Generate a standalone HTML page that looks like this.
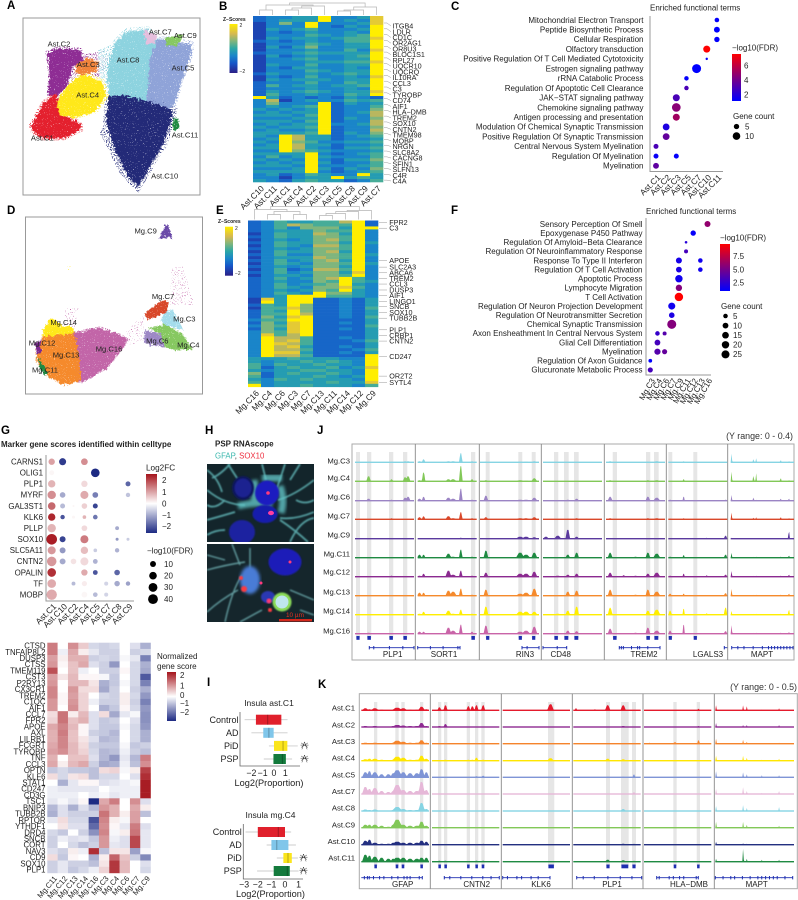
<!DOCTYPE html>
<html lang="en">
<head>
<meta charset="utf-8">
<title>Multi-panel single-cell figure</title>
<style>
html,body{margin:0;padding:0;background:#fff}
svg{display:block}
text{font-family:"Liberation Sans",sans-serif;fill:#222}
.letter{font-size:11.5px;font-weight:bold;fill:#000}
.yr{font-size:8.9px;fill:#333}
</style>
</head>
<body>
<svg id="fig" xmlns="http://www.w3.org/2000/svg" width="798" height="900" viewBox="0 0 798 900">
<defs>
<filter id="rough" x="-10%" y="-10%" width="120%" height="120%" color-interpolation-filters="sRGB">
<feTurbulence type="fractalNoise" baseFrequency="0.35" numOctaves="2" seed="3" result="n"/>
<feDisplacementMap in="SourceGraphic" in2="n" scale="6" xChannelSelector="R" yChannelSelector="G" result="d"/>
<feTurbulence type="fractalNoise" baseFrequency="0.95" numOctaves="1" seed="5" result="s"/>
<feColorMatrix in="s" type="matrix" values="0 0 0 0 0 0 0 0 0 0 0 0 0 0 0 9 0 0 0 -2.1" result="m"/>
<feComposite in="d" in2="m" operator="in"/>
</filter>
<filter id="sparse" x="-10%" y="-10%" width="120%" height="120%" color-interpolation-filters="sRGB">
<feTurbulence type="fractalNoise" baseFrequency="0.95" numOctaves="1" seed="9" result="s"/>
<feColorMatrix in="s" type="matrix" values="0 0 0 0 0 0 0 0 0 0 0 0 0 0 0 14 0 0 0 -7.6" result="m"/>
<feComposite in="SourceGraphic" in2="m" operator="in"/>
</filter>
<filter id="thin" x="-10%" y="-10%" width="120%" height="120%" color-interpolation-filters="sRGB">
<feTurbulence type="fractalNoise" baseFrequency="0.95" numOctaves="1" seed="12" result="s"/>
<feColorMatrix in="s" type="matrix" values="0 0 0 0 0 0 0 0 0 0 0 0 0 0 0 16 0 0 0 -10.2" result="m"/>
<feComposite in="SourceGraphic" in2="m" operator="in"/>
</filter>
<filter id="b1"><feGaussianBlur stdDeviation="0.7"/></filter>
<filter id="b2"><feGaussianBlur stdDeviation="1.6"/></filter>
<linearGradient id="gradFdr" x1="0" y1="0" x2="0" y2="1"><stop offset="0" stop-color="#ff0000"/><stop offset="1" stop-color="#0000ff"/></linearGradient>
<linearGradient id="gradDiv" x1="0" y1="0" x2="0" y2="1"><stop offset="0" stop-color="#a5141c"/><stop offset="0.5" stop-color="#ffffff"/><stop offset="1" stop-color="#1d2a83"/></linearGradient>
<linearGradient id="gradVir" x1="0" y1="0" x2="0" y2="1"><stop offset="0" stop-color="#ffee00"/><stop offset="0.2" stop-color="#d6b850"/><stop offset="0.35" stop-color="#7fb57d"/><stop offset="0.5" stop-color="#2ba7a6"/><stop offset="0.65" stop-color="#1a85c9"/><stop offset="0.8" stop-color="#1656c8"/><stop offset="1" stop-color="#2b1f86"/></linearGradient>
<clipPath id="hc1"><rect x="207" y="464" width="107" height="78"/></clipPath>
<clipPath id="hc2"><rect x="207" y="544" width="107" height="78"/></clipPath>
</defs>

<text class="letter" x="7" y="9">A</text>
<text class="letter" x="219" y="10">B</text>
<text class="letter" x="451" y="10">C</text>
<text class="letter" x="7" y="214">D</text>
<text class="letter" x="216" y="214">E</text>
<text class="letter" x="451" y="214">F</text>
<text class="letter" x="1" y="434">G</text>
<text class="letter" x="205" y="434">H</text>
<text class="letter" x="207" y="686">I</text>
<text class="letter" x="317" y="434">J</text>
<text class="letter" x="318" y="688">K</text>

<rect x="23" y="18" width="177" height="177" fill="none" stroke="#999" stroke-width="1"/>
<rect x="25.5" y="217" width="177" height="177" fill="none" stroke="#999" stroke-width="1"/>
<g id="umapA"></g>
<g id="umapD"></g>

<g id="heatB"></g>
<g>
<text x="223" y="21" font-size="5" font-weight="bold">Z−Scores</text>
<rect x="229.5" y="24" width="8" height="49" fill="url(#gradVir)"/>
<text x="239.5" y="27" font-size="5">2</text>
<text x="239.5" y="73" font-size="5">−2</text>
</g>
<g id="heatE"></g>
<g>
<text x="218" y="223" font-size="5" font-weight="bold">Z−Scores</text>
<rect x="225" y="226.7" width="8" height="49" fill="url(#gradVir)"/>
<text x="235" y="230" font-size="5">2</text>
<text x="235" y="275" font-size="5">−2</text>
</g>

<g id="dotC"></g>
<g>
<text x="650" y="10.5" font-size="8">Enriched functional terms</text>
<text x="732" y="50.5" font-size="8">−log10(FDR)</text>
<rect x="732" y="54" width="9" height="47" fill="url(#gradFdr)"/>
<text x="735" y="68.5" font-size="8" dx="9">6</text>
<text x="735" y="83" font-size="8" dx="9">4</text>
<text x="735" y="97.5" font-size="8" dx="9">2</text>
<text x="733" y="119" font-size="8">Gene count</text>
</g>
<g id="dotF"></g>
<g>
<text x="646" y="214" font-size="8">Enriched functional terms</text>
<text x="720" y="240.5" font-size="8">−log10(FDR)</text>
<rect x="720" y="244" width="10" height="47" fill="url(#gradFdr)"/>
<text x="733" y="258.8" font-size="8">7.5</text>
<text x="733" y="272.3" font-size="8">5.0</text>
<text x="733" y="285.6" font-size="8">2.5</text>
<text x="721" y="309" font-size="8">Gene count</text>
</g>

<g id="dotG"></g>
<text x="1" y="447" font-size="8" font-weight="bold">Marker gene scores identified within celltype</text>
<g>
<text x="146" y="470.5" font-size="8.2">Log2FC</text>
<rect x="146" y="474" width="11" height="59" fill="url(#gradDiv)"/>
<text x="162" y="482.8" font-size="8">2</text>
<text x="162" y="494.8" font-size="8">1</text>
<text x="162" y="506.3" font-size="8">0</text>
<text x="162" y="517.8" font-size="8">−1</text>
<text x="162" y="528.8" font-size="8">−2</text>
<text x="147" y="553.5" font-size="8">−log10(FDR)</text>
</g>

<g id="heatG"></g>
<g>
<text x="157" y="659" font-size="8">Normalized</text>
<text x="157" y="669" font-size="8">gene score</text>
<rect x="167" y="672" width="9" height="49" fill="url(#gradDiv)"/>
<text x="180" y="677.8" font-size="8">2</text>
<text x="180" y="688.3" font-size="8">1</text>
<text x="180" y="697.8" font-size="8">0</text>
<text x="180" y="705.8" font-size="8">−1</text>
<text x="180" y="714.8" font-size="8">−2</text>
</g>

<g>
<text x="215" y="446.5" font-size="8" font-weight="bold">PSP RNAscope</text>
<text x="215" y="458.5" font-size="7.8"><tspan fill="#39b7ad">GFAP</tspan><tspan fill="#222">, </tspan><tspan fill="#ee2b3c">SOX10</tspan></text>
<g clip-path="url(#hc1)">
<rect x="207" y="464" width="107" height="78" fill="#13252b"/>
<g fill="none" stroke="#6fd0d0" stroke-width="1.7" opacity=".75" filter="url(#b1)">
<path d="M207 490 Q225 505 245 505 M228 464 Q238 480 250 497 M285 464 Q280 480 276 490 M314 480 Q295 495 278 500 M314 512 Q295 520 280 518 M280 520 Q295 530 308 542 M207 520 Q225 515 235 512 M207 535 Q215 530 225 530 M290 542 Q300 520 314 518 M262 464 L266 480 M207 470 Q218 478 222 492 M300 464 L290 480 M230 464 Q220 475 212 478 M296 500 Q305 505 314 500 M225 500 Q215 510 207 505"/>
</g>
<g fill="none" stroke="#62c4c6" stroke-width="7" opacity=".8" filter="url(#b2)">
<path d="M238 506 Q258 501 272 505 M280 486 Q285 500 281 513 M254 480 Q256 490 254 502 M282 478 Q272 478 262 478"/>
</g>
<ellipse cx="243" cy="488" rx="11" ry="12" fill="#10175c" filter="url(#b1)"/>
<ellipse cx="243" cy="488" rx="8.5" ry="9.5" fill="#1a2290" filter="url(#b1)"/>
<ellipse cx="267" cy="493" rx="12" ry="12.5" fill="#1a1ec0" filter="url(#b1)"/>
<ellipse cx="265" cy="514" rx="12.5" ry="9" fill="#181cac" filter="url(#b1)"/>
<ellipse cx="242" cy="532" rx="13" ry="12" fill="#1a20a0" filter="url(#b1)"/>
<circle cx="268" cy="493" r="1.8" fill="#ff3a7c"/>
<ellipse cx="271" cy="513" rx="3" ry="2.2" fill="#ff3ea0"/>
</g>
<g clip-path="url(#hc2)">
<rect x="207" y="544" width="107" height="78" fill="#15262c"/>
<g fill="none" stroke="#84d0d2" stroke-width="1.4" opacity=".7" filter="url(#b1)">
<path d="M207 570 Q225 565 245 562 M225 622 Q232 590 242 575 M207 612 Q220 600 238 590 M250 548 L250 570 M290 590 L314 600 M207 555 L225 560 M262 610 L240 622 M232 544 L240 565 M300 610 L314 615"/>
</g>
<ellipse cx="285" cy="562" rx="16.5" ry="13.5" fill="#1a1eb8" filter="url(#b1)"/>
<ellipse cx="250" cy="580" rx="10" ry="14" fill="#4a7cd6" filter="url(#b2)"/>
<ellipse cx="268" cy="597" rx="7" ry="6" fill="#2a38b4" filter="url(#b1)"/>
<circle cx="282" cy="602" r="9.5" fill="#8cdc5a" filter="url(#b1)"/>
<circle cx="282" cy="602" r="6.5" fill="#bfe6ee"/>
<circle cx="244" cy="589" r="3" fill="#ff3a40" filter="url(#b1)"/>
<circle cx="241" cy="578" r="2" fill="#ff3a40" filter="url(#b1)"/>
<circle cx="269" cy="601" r="2.5" fill="#ff3a70" filter="url(#b1)"/>
<circle cx="270" cy="610" r="2" fill="#ff3a40" filter="url(#b1)"/>
<circle cx="290" cy="562" r="1.5" fill="#ff3a7c"/>
<circle cx="261" cy="583" r="1.5" fill="#ff3a7c"/>
<rect x="279" y="619" width="33" height="2.4" fill="#d4281c"/>
<text x="286" y="617" font-size="6.4" style="fill:#e63020">10 µm</text>
</g>
</g>

<g id="boxI"></g>

<g id="trackJ"></g>
<text class="yr" x="793" y="439" text-anchor="end">(Y range: 0 - 0.4)</text>
<g id="trackK"></g>
<text class="yr" x="797" y="690" text-anchor="end">(Y range: 0 - 0.5)</text>
</svg>

<script>
// ---------- UMAP clusters (outline in embedding space, zoom units) ----------
const aNames=["Ast.C5","Ast.C8","Ast.C10","Ast.C2","Ast.C3","Ast.C4","Ast.C1","Ast.C7","Ast.C9","Ast.C11"];
const aColors=["#8fa3d8","#8dd3df","#232a78","#8e2d94","#f0833a","#ffe81a","#e4202e","#e6bedd","#86c860","#1f8a42"];
const aOutlines=[
[[440,120],[500,120],[575,135],[570,175],[545,240],[525,310],[490,345],[430,310],[440,220]],
[[345,130],[380,95],[440,90],[470,120],[450,180],[445,230],[440,330],[330,305],[320,220],[335,160]],
[[325,290],[370,285],[480,315],[520,335],[490,430],[450,500],[415,560],[385,530],[345,450],[320,370]],
[[140,160],[180,145],[240,150],[250,180],[220,200],[200,260],[170,290],[145,280],[150,210]],
[[230,190],[260,175],[295,185],[290,215],[250,225],[225,215]],
[[165,315],[205,255],[250,222],[305,245],[318,290],[285,335],[220,352],[172,345]],
[[95,375],[130,310],[170,280],[175,340],[240,370],[240,390],[190,415],[130,415],[100,395]],
[[430,90],[470,105],[465,130],[440,130]],
[[495,115],[550,105],[530,140],[500,135]],
[[522,355],[535,355],[538,385],[525,392],[518,380]]];
const aSparse=[["#8e2d94",[[140,200],[220,170],[320,150],[330,210],[240,260],[170,300]]],["#8dd3df",[[295,150],[345,130],[340,300],[300,300]]],["#232a78",[[325,340],[300,400],[360,520],[400,560],[500,440],[530,340],[480,330]]],["#e4202e",[[130,300],[180,280],[250,380],[200,420]]]];
const aLabels=[["Ast.C1",127,414],["Ast.C2",177,132],["Ast.C3",265,193],["Ast.C4",263,285],["Ast.C5",549,204],["Ast.C7",481,95],["Ast.C8",384,179],["Ast.C9",556,106],["Ast.C10",494,528],["Ast.C11",555,405]];

const dNames=["Mg.C9","Mg.C14","Mg.C16","Mg.C13","Mg.C12","Mg.C11","Mg.C3","Mg.C7","Mg.C4","Mg.C6"];
const dColors=["#6a4aa8","#ffe81a","#c265a8","#f58a2c","#7b2a90","#1f8a42","#a4dceb","#d8482a","#86c860","#9d88c6"];
const dOutlines=[
[[480,100],[495,60],[505,60],[517,100],[495,95]],
[[130,375],[150,340],[165,345],[185,365],[215,365],[225,385],[130,400]],
[[215,385],[300,368],[350,385],[385,405],[360,440],[320,490],[250,530],[225,525]],
[[110,430],[130,395],[225,385],[240,470],[240,525],[190,540],[140,510],[110,470]],
[[105,415],[120,405],[125,440],[110,450]],
[[110,455],[125,470],[145,515],[125,500]],
[[495,315],[520,320],[550,375],[490,360],[485,340]],
[[432,325],[490,285],[505,290],[500,320],[445,345]],
[[445,370],[495,360],[545,385],[580,435],[520,435],[495,425],[480,385]],
[[430,415],[435,375],[480,385],[495,425],[450,420]]];
const dSparse=[["#c265a8",[[515,190],[545,180],[585,300],[510,300]]],["#c265a8",[[380,380],[430,330],[430,410],[390,420]]],["#ffe81a",[[203,183],[215,183],[215,195],[203,195]]],["#c265a8",[[195,310],[235,310],[225,370],[190,370]]]];
const aLayerFilter="url(#sparse)";
const dLayerFilter="url(#thin)";
const aLabelsSize=7.6;
const aFringe=1.12;
const dFringe=1.06;
const dLabels=[["Mg.C9",437,77],["Mg.C7",489,274],["Mg.C14",191,352],["Mg.C3",553,341],["Mg.C12",126,414],["Mg.C6",472,407],["Mg.C4",565,420],["Mg.C13",198,450],["Mg.C16",327,431],["Mg.C11",135,494]];

// ---------- Heatmap B ----------
const bCols=["Ast.C10","Ast.C11","Ast.C1","Ast.C4","Ast.C2","Ast.C3","Ast.C5","Ast.C8","Ast.C9","Ast.C7"];
const bGenes=["ITGB4","LDLR","CD1C","OR2AG1","OR8U3","BLOC1S1","RPL27","UQCR10","UQCRQ","IL10RA","CCL3","C3","TYROBP","CD74","AIF1","HLA−DMB","TREM2","SOX10","CNTN2","TMEM98","MOBP","NRGN","SLC8A2","CACNG8","SFIN1","SLFN13","C4R","C4A"];
const bRows=[[2,3,3,4,4,9,3,3,4,8],[2,3,4,4,4,9,3,4,3,8],[1,3,6,3,9,3,3,3,4,8],[1,3,3,3,9,3,2,4,3,9],[1,4,3,4,5,3,3,3,4,9],[1,3,2,3,4,3,3,4,3,9],[1,3,3,3,5,4,3,4,5,9],[1,4,3,4,4,3,4,5,5,8],[2,3,2,3,4,3,3,5,5,9],[1,3,3,3,5,4,3,4,4,9],[1,4,2,4,6,3,3,4,4,9],[1,3,3,3,4,3,3,5,3,8],[2,3,3,4,5,4,4,4,4,9],[1,4,2,3,4,3,3,4,5,9],[1,3,3,4,5,3,3,4,4,9],[1,3,3,3,4,4,4,5,5,8],[1,4,3,3,5,3,3,4,4,9],[1,3,2,4,4,3,3,4,3,9],[1,3,3,3,5,4,3,4,4,9],[2,4,3,3,4,3,4,5,4,9],[1,3,2,3,5,3,3,4,3,8],[1,4,3,4,4,4,3,4,4,9],[2,3,3,3,5,3,3,5,4,9],[2,5,3,4,4,3,4,4,5,9],[2,3,3,3,4,3,3,4,3,9],[2,4,3,4,5,4,3,4,4,8],[2,5,3,3,4,3,3,5,4,9],[9,4,2,3,2,3,2,4,3,2],[3,7,1,3,4,3,3,5,4,5],[3,6,3,3,3,9,2,4,3,4],[3,4,3,4,5,9,2,3,3,5],[4,3,4,3,4,9,2,3,3,6],[3,4,3,4,4,9,2,3,4,7],[4,4,4,3,5,9,2,3,3,7],[3,3,3,4,4,9,2,4,3,6],[4,4,4,3,5,9,2,3,3,7],[3,4,3,4,4,9,3,3,4,7],[4,3,4,4,5,9,2,3,3,6],[3,4,3,3,4,9,2,3,3,7],[4,4,4,4,5,9,2,4,3,6],[4,3,9,7,4,4,2,3,4,5],[3,4,9,7,4,4,2,3,3,4],[4,3,9,6,5,3,3,4,4,5],[3,4,9,7,4,4,2,3,3,4],[4,4,9,7,4,3,2,4,4,5],[3,3,9,6,5,4,3,3,3,4],[4,4,4,4,9,3,2,3,4,5],[3,5,3,4,9,4,3,3,3,5],[4,3,4,3,9,3,2,4,4,6],[3,4,3,4,9,4,2,3,3,5],[4,4,4,3,9,3,3,3,4,5],[3,3,3,4,9,4,2,4,3,6],[4,4,4,4,9,3,2,3,4,5],[3,4,2,3,5,4,3,3,9,4],[3,3,1,3,4,4,9,4,5,4],[4,3,2,4,5,4,4,2,3,5]];
const bTree=[[0,1,5],[2,3,5],[11,4,7],[12,5,9],[6,7,4],[14,8,5],[15,9,8],[10,13,10],[17,16,12]];

// ---------- Heatmap E ----------
const eCols=["Mg.C16","Mg.C4","Mg.C6","Mg.C3","Mg.C7","Mg.C13","Mg.C11","Mg.C14","Mg.C12","Mg.C9"];
const eGenes=["FPR2","C3","APOE","SLC2A3","ABCA6","TREM2","CCL3","DUSP3","AIF1","LINGO1","SNCB","SOX10","TUBB2B","PLP1","CRBP1","CNTN2","CD247","OR2T2","SYTL4"];
const eGeneRows=[0.6,2.6,13.5,15.7,17.6,19.6,21.4,23.4,25.2,27.2,29,30.9,32.9,36.8,38.7,40.6,45.8,52.4,54.5];
const eRows=[[2,3,5,4,4,5,5,7,9,2],[2,3,5,7,6,5,5,5,9,2],[2,3,5,3,6,6,6,4,9,9],[2,3,4,4,4,6,5,5,9,3],[1,3,5,4,4,7,6,4,9,3],[2,3,5,4,4,6,6,5,9,3],[1,3,4,3,4,6,7,5,9,3],[2,3,5,4,4,6,6,4,9,4],[1,3,5,4,3,7,7,5,9,3],[2,3,4,3,4,6,6,5,9,3],[1,3,5,4,4,6,7,4,9,3],[2,3,5,3,3,6,6,5,9,4],[1,3,4,4,4,7,6,5,9,3],[2,3,5,3,4,6,7,4,9,3],[1,3,5,4,3,6,6,5,9,4],[2,3,4,3,4,6,6,4,9,3],[1,3,5,2,3,7,7,5,9,3],[2,3,5,3,4,6,6,4,8,3],[1,3,4,4,3,6,6,5,9,3],[2,3,5,3,4,6,7,9,5,3],[2,3,4,3,3,6,5,9,5,4],[2,3,5,3,4,5,6,9,4,3],[2,3,5,4,3,6,6,8,5,3],[2,3,4,3,4,6,5,9,4,3],[2,3,5,4,3,9,6,6,4,3],[2,3,4,9,9,9,5,5,4,3],[1,8,4,9,9,2,2,3,2,4],[1,9,4,9,9,2,2,3,2,4],[2,5,4,9,6,2,2,3,2,4],[1,5,5,8,6,2,2,3,2,5],[2,5,4,9,6,2,2,3,2,4],[2,5,5,9,7,2,2,3,2,4],[2,6,4,8,9,2,2,3,2,5],[3,5,5,9,9,2,2,2,2,4],[2,6,4,8,9,2,2,3,2,4],[3,6,5,8,9,2,2,2,2,5],[2,6,4,8,9,2,2,3,2,4],[3,6,5,8,9,2,2,2,2,4],[3,8,5,7,9,2,2,2,2,4],[3,9,7,7,5,2,2,3,2,4],[3,9,7,8,5,2,2,2,3,5],[3,9,8,7,5,2,2,2,2,4],[3,9,7,8,4,2,2,3,2,4],[3,9,7,7,5,2,2,2,3,5],[3,9,8,8,4,2,2,3,2,4],[3,9,7,7,5,2,2,2,2,9],[4,4,4,5,4,4,4,3,3,9],[4,3,4,4,5,4,5,4,3,9],[5,3,5,4,4,5,4,4,3,9],[5,2,4,5,4,4,5,3,4,8],[4,3,4,4,5,5,4,4,3,9],[6,2,4,5,4,4,5,4,3,9],[5,2,4,4,4,5,4,3,4,9],[4,3,5,4,5,4,4,4,3,9],[5,3,4,4,4,4,5,4,4,8],[9,3,4,4,5,4,4,4,3,5]];
const eTree=[[1,2,5],[3,4,5],[10,11,8],[0,12,10],[5,6,4],[14,7,6],[15,8,8],[16,9,9],[13,17,13]];

// ---------- Dot plot C ----------
const cTerms=["Mitochondrial Electron Transport","Peptide Biosynthetic Process","Cellular Respiration","Olfactory transduction","Positive Regulation Of T Cell Mediated Cytotoxicity","Estrogen signaling pathway","rRNA Catabolic Process","Regulation Of Apoptotic Cell Clearance","JAK−STAT signaling pathway","Chemokine signaling pathway","Antigen processing and presentation","Modulation Of Chemical Synaptic Transmission","Positive Regulation Of Synaptic Transmission","Central Nervous System Myelination","Regulation Of Myelination","Myelination"];
const cCols=["Ast.C1","Ast.C2","Ast.C3","Ast.C5","Ast.C7","Ast.C10","Ast.C11"];
const cDots=[[0,6,3.7,1.4],[1,6,6,1.3],[2,6,5,1.4],[3,5,8.5,7.2],[4,5,1,1.4],[5,4,14,1.3],[6,3,3.5,1.4],[7,3,3.5,3],[8,2,8.5,3],[9,2,13,4.5],[10,2,8.5,5],[11,1,8,2],[12,1,8,3.6],[13,0,4.3,3],[14,0,4.3,1.5],[14,2,4.3,1.4],[15,0,6,3.5]];
const cLegendCounts=[5,10];

// ---------- Dot plot F ----------
const fTerms=["Sensory Perception Of Smell","Epoxygenase P450 Pathway","Regulation Of Amyloid−Beta Clearance","Regulation Of Neuroinflammatory Response","Response To Type II Interferon","Regulation Of T Cell Activation","Apoptotic Process","Lymphocyte Migration","T Cell Activation","Regulation Of Neuron Projection Development","Regulation Of Neurotransmitter Secretion","Chemical Synaptic Transmission","Axon Ensheathment In Central Nervous System","Glial Cell Differentiation","Myelination","Regulation Of Axon Guidance","Glucuronate Metabolic Process"];
const fCols=["Mg.C3","Mg.C4","Mg.C6","Mg.C7","Mg.C9","Mg.C11","Mg.C12","Mg.C13","Mg.C16"];
const fDots=[[0,8,11,6],[1,6,8,1.5],[2,5,1,2.5],[3,5,3.4,3.5],[4,4,11,2],[4,7,5,1.8],[5,4,10,2.2],[5,7,5,1.8],[6,4,20,1.8],[7,4,13,5.5],[8,4,29,9.5],[9,3,17,1.8],[10,3,9,2.2],[11,3,35,5.5],[12,1,5,3],[12,2,3.4,4],[13,1,10,3.5],[14,1,12,4],[14,2,7,4.5],[15,0,2.8,1.3],[16,0,7,3.5]];
const fLegendCounts=[5,10,15,20,25];

// ---------- Dot plot G ----------
const gGenes=["CARNS1","OLIG1","PLP1","MYRF","GAL3ST1","KLK6","PLLP","SOX10","SLC5A11","CNTN2","OPALIN","TF","MOBP"];
const gCols=["Ast.C1","Ast.C10","Ast.C2","Ast.C4","Ast.C5","Ast.C7","Ast.C8","Ast.C9"];
const gDots=[[0,0,12,1.0],[0,1,16,-2.3],[0,3,14,1.2],[1,0,6,0.1],[1,4,28,-2.5],[2,0,18,0.8],[2,3,12,0.4],[2,7,6,-1.8],[3,0,26,1.2],[3,1,8.5,-1],[3,3,23,0.9],[3,4,9,-1.5],[3,7,4.3,-0.7],[4,0,20,1.6],[4,1,6,-0.8],[4,2,0.5,0.1],[4,3,8.5,0.5],[4,4,6,-2.2],[5,0,18,2.3],[5,1,4.3,-2],[5,2,1.5,0.1],[5,3,2.5,0.8],[5,4,5,-1.6],[6,0,26,0.8],[6,3,9,0.4],[6,6,3,-1],[7,0,50,2.4],[7,1,10,-2.2],[7,3,23,1.4],[7,6,1.5,-1.2],[7,7,1.5,-0.6],[8,0,23,1.1],[8,1,10,-1.2],[8,3,18,0.7],[8,4,2.5,-0.6],[8,6,4.3,-0.9],[9,0,37,1.1],[9,1,10,-1],[9,2,8.5,0.3],[9,3,23,0.4],[9,4,5.5,-0.9],[10,0,28,2.2],[10,3,12,0.9],[10,4,5.5,-2],[10,6,8.5,-1.8],[11,0,28,0.9],[11,2,3,-0.8],[11,3,7,0.2],[11,5,3.3,-0.5],[11,6,8,-1],[11,7,4.3,-1.1],[12,0,47,0.9],[12,3,9,0.1],[12,4,5,-0.8],[12,5,3.3,-0.5]];
const gLegendFdr=[10,20,30,40];

// ---------- Heatmap G ----------
const hGenes=["CTSD","TNFAIP8L2","DUSP3","CTSS","TMEM119","CST3","P2RY13","CX3CR1","TREM2","C1QC","AIF1","CCL7","FPR2","APOE","AXL","LILRB1","FCGRT","TYROBP","TNF","CCL3","OPTN","KLF6","STAT1","CD247","CD3G","TSC1","BNIP3","TUBB2B","RPTOR","YTHDF1","DRD4","SNCB","CORT","NAV3","CD9","SOX10","PLP1"];
const hCols=["Mg.C11","Mg.C12","Mg.C13","Mg.C14","Mg.C16","Mg.C3","Mg.C4","Mg.C6","Mg.C7","Mg.C9"];
const hValues=[[1.5,0,1.3,.6,-.5,-.6,-.5,0,-.4,-1],[1.5,-.2,1,.2,-.3,-.6,-.6,0,-.6,-.5],[1.1,.2,.9,.9,-.6,-.5,-.6,-.1,-.3,-1.6],[1.2,.1,.7,1,-.4,-.6,-1.3,0,-.5,-1],[2,0,.7,-.2,0,-.6,-.6,.1,-.5,-1.1],[1.1,.3,.8,.1,.1,-.1,-.7,0,-.5,-2.1],[1.2,0,.8,.8,.3,-1,-.7,-.1,-.5,-1.6],[1.4,0,1.2,.4,.4,-1.1,-.6,0,-.6,-1],[1.4,.1,1.1,.5,0,-.5,-.6,.2,-.5,-1.3],[1.2,.1,1.2,.5,-.2,-.6,-.6,.2,-.6,-1.6],[1.2,0,1.3,.5,0,-1,-.7,.1,-.5,-1.3],[.4,1.6,.2,.8,-.4,.4,-1.1,-.3,-.1,-1.4],[.5,1.6,.7,.9,-.4,-.7,-.6,0,-.4,-1.4],[1,1.4,.8,.1,-.4,-.7,-.7,-.1,-.5,-1.3],[.9,1.5,.7,.1,-.6,-.7,-.9,0,-.5,-1],[.9,1.4,.7,.3,-.4,-.9,-.8,0,-.5,-1],[1,1.4,.8,.4,-.6,-.7,-.7,-.1,-.7,-.6],[1.1,1.3,.8,.5,-.5,-.9,-.8,-.2,-.6,-.8],[.9,0,.7,.7,-.4,-.9,-1.3,-.3,-.9,1.5],[1,.2,.8,1,-.6,-1.1,-1,-.2,-.8,1.3],[-.7,-.5,-.7,-.7,-.8,.4,.5,-.1,.2,2.2],[.4,-.5,.3,.4,-.8,-.5,-.5,0,-.4,2.4],[0,-1,-.3,.1,.1,-.4,-.3,-.2,-.1,2.6],[-.2,-.3,-.3,-.3,-.3,0,-.2,-.2,-.2,2.6],[-.2,-.2,-.2,0,-.2,-.1,-.3,-.2,-.2,2.6],[-.3,-.1,-.3,.1,-2.7,1,1.5,0,1.3,-.4],[-.9,-.4,-1,-.4,-.9,1.2,.9,0,1,.2],[-1,-.4,-.6,-.6,-.6,1.6,.9,.2,1.1,-.8],[-.3,.4,-.5,-.5,-2.2,1.4,.2,-.1,1.1,0],[0,.3,-.4,-.4,-1.9,1.3,.1,-.3,1.5,-.4],[-.5,-.7,0,-.6,-1.4,1.4,-.1,.2,1.6,-.3],[-.6,-.2,-.4,-.3,-.7,1.2,-.2,-.4,2.1,-.3],[-.6,0,-.5,-.8,-.6,1.2,-.3,-.4,2.1,-.3],[-.4,-.6,.2,-.2,2.4,-.8,.3,.3,-1.2,-.1],[.4,-.7,.1,0,-1,.2,1.8,.7,-.6,-1.5],[-.6,-.3,-.6,-.6,-.8,.3,2.3,.8,0,-.4],[-.6,-.3,-.7,-.5,-.2,.5,2.3,.8,0,-.5]];

// ---------- Box plots I ----------
const iGroups=["Control","AD","PiD","PSP"];
const iFills=["#e0202c","#80c6ea","#fbe51c","#137a3c"];
const iTopBoxes=[[-2.6,-1.6,-.55,.65,1.2],[-2,-.95,-.45,-.03,1.2],[-.45,0,.8,1.18,2.1],[-.9,-.05,.73,1.05,1.6]];
const iTopTicks=[-2,-1,0,1];
const iBotBoxes=[[-2.9,-2,-.5,0,.45],[-1.35,-1,-.6,.25,.8],[-.6,-.12,.22,.5,.95],[-2.05,-.83,.16,.35,1]];
const iBotTicks=[-3,-2,-1,0,1];
const iStarGroups=[2,3];

// ---------- Tracks J ----------
const jRows=["Mg.C3","Mg.C4","Mg.C6","Mg.C7","Mg.C9","Mg.C11","Mg.C12","Mg.C13","Mg.C14","Mg.C16"];
const jColors=["#86d4e3","#82c858","#9b84c4","#d9482a","#5b3a9e","#1f8a42","#8b2a90","#f58a2c","#ffee00","#c964a8"];
const jGenes=["PLP1","SORT1","RIN3","CD48","TREM2","LGALS3","MAPT"];
const jPeaks=[[23,62,85,90],[3,10,52,60,73,92],[10,68,78,92],[5,25,42,57],[7,30,50,71,86],[3,26,65,97],[1.5,36,40,79,92]];
const jWidths=[[4,3,4,4],[4,3,5,6,3,3],[4,7,7,5],[5,6,4,4],[4,3,4,4,6],[3,2,2,3],[1,1,1,1.5,1.5]];
const jHeights=[
[[.5,.5,1,1],[5,2,4,5],[2,1,3,4],[0,1,0,0],[],[],[0,1,0,0],[],[],[1,0,0,0]],
[[1,3,1,1,9,1],[1,9,2,2,15,2],[2,4,3,2,12,1],[2,3,3,1,7,1],[.5,.5,.5,0,1,0],[3,3,4,1,8,1],[1,3,6,2,6,1],[3,3,5,4,7,1],[1,3,4,1,5,1],[2,2,6,3,9,2]],
[[.5,.5,.5,1],[1,1,.5,3],[5,1,1,3],[2,1,1,2],[0,2,2,1.5],[7,5,3,5],[4,3,3,5],[6,2,3,7],[8,3,3,3],[8,2,3,7]],
[[],[],[0,0,1,2],[0,0,.5,1],[2,3,9,2],[.3,.3,3,5],[.5,1,2,3],[.5,.5,4,5],[.5,1,4,8],[.5,.5,3,2.5]],
[[1,0,.3,.5,1],[1,0,.3,1,1],[4,0,.5,4,3],[1,0,.3,1,1],[],[5,.5,1,5,4],[4,1.5,1,3,4],[6,.5,1,6,4],[7,.3,.5,4,5],[5,.5,1,6,3]],
[[.3,1,.2,.2],[.3,2,.2,.3],[1,4,.3,1],[.5,1,.2,.5],[0,.2,1,3],[1,2.5,.3,3],[1,3,1.5,2],[2,2,.5,2.5],[4,6,1.5,7],[3,9,.5,2.5]],
[[9,4,4,2,1],[10,7,8,3,1],[6,4,1,2,2],[7,2,2,2,1],[1,.5,.5,.5,7],[5,1,1,1,2],[6,1,1,1,2],[7,1,1,1,2],[4,1,1,1,5],[9,1,1,1,1.5]]];

// ---------- Tracks K ----------
const kRows=["Ast.C1","Ast.C2","Ast.C3","Ast.C4","Ast.C5","Ast.C7","Ast.C8","Ast.C9","Ast.C10","Ast.C11"];
const kColors=["#e41a2c","#8e2a92","#f5842c","#ffe600","#7f95d6","#e6b8d8","#86d4e3","#82c858","#232f80","#1f8a42"];
const kGenes=["GFAP","CNTN2","KLK6","PLP1","HLA−DMB","MAPT"];
const kPeaks=[[6,12,20,30,40,47,53,62,72,82,89,96],[11,20,54,60,66,76],[71],[4,32,51,74,90],[8,46,81],[1,35.5,40,59,81]];
const kWidths=[[5,4,6,5,5,4,8,6,6,6,5,4],[3,3,3,3,3,3],[5],[2,2,4,4,2],[2,3,2],[1,.8,1,.8,1]];
const kHeights=[
[[2,1,2,.5,.3,.5,2.5,2,.5,.5,3.5,1],[1,.5,1,.5,.5,1,2,1.5,1,1,4,1],[1,.5,1,.5,.5,1,3,2,1,1,3.5,1],[1.5,2,2,1,.5,1,4,3,1,1,5,2],[5,6,5,3,3,4,7,5,4,4,8,5],[7,5,6,3,2,3,9,4,3,3,12,4],[1.5,1,1.5,.5,.5,1,4,2,1,1,8,2],[3,3,3,2,1,3,8,3,2,2,6,2],[4,5,2,1,1,2,3,2,2,2,4,3],[7,6,5,4,3,3,4,4,3,3,4,4]],
[[3,5,4,4,5,5],[1,3,.5,.5,.5,.5],[],[.5,1,1,1,3,1],[0,0,0,0,1,1.5],[],[],[],[0,0,0,0,0,.8],[1,1,.5,.5,1,1]],
[[6],[.5],[],[2.5],[],[],[],[],[],[]],
[[2,1,5,5,.5],[0,0,.5,1,0],[],[.5,.3,2,1.5,.3],[.3,.3,.5,.5,3],[0,0,.5,.3,2],[0,0,.3,2,0],[],[0,0,.3,1,1],[.5,.5,2,1.5,1]],
[[0,0,1.5],[0,0,1],[1,1.5,3.5],[],[],[.5,0,.5],[],[.5,0,.5],[.5,0,0],[0,0,.5]],
[[5,5,4,.5,2],[4,2,2,.5,2],[5,4,2,.5,1],[5,5,3,1,2],[6,5,3,2,2],[5,7,3,1,3],[5,6,3,.5,4],[6,6,3,.5,2],[3,1.5,1,.3,.5],[3,13,3,2,2]]];

// ---------- helpers ----------
const NS="http://www.w3.org/2000/svg";
function mk(tag,attrs,parent){
  const el=document.createElementNS(NS,tag);
  for(const k in attrs) el.setAttribute(k,attrs[k]);
  parent.appendChild(el);
  return el;
}
function txt(parent,x,y,str,size,name,anchor,rot){
  const el=mk("text",{x:x,y:y+size*0.35,"font-size":size,"text-anchor":anchor||"start"},parent);
  if(rot) el.setAttribute("transform","rotate("+rot+" "+x+" "+y+")");
  el.textContent=str;
  
  
  return el;
}
function slug(s){return String(s).toLowerCase().replace(/[^a-z0-9]+/g,'-');}
function lerp(a,b,t){return a+(b-a)*t;}
function mix(stops,t){
  t=Math.max(0,Math.min(1,t));
  const n=stops.length-1,i=Math.min(n-1,Math.floor(t*n)),f=t*n-i,a=stops[i],b=stops[i+1];
  return "rgb("+Math.round(lerp(a[0],b[0],f))+","+Math.round(lerp(a[1],b[1],f))+","+Math.round(lerp(a[2],b[2],f))+")";
}
const virStops=[[43,31,134],[22,86,200],[26,133,201],[43,167,166],[127,181,125],[214,184,80],[255,238,0]];
function virColor(level){return mix(virStops,level/9);}
function fdrColor(v,lo,hi){const t=Math.max(0,Math.min(1,(v-lo)/(hi-lo)));return "rgb("+Math.round(255*t)+",0,"+Math.round(255*(1-t))+")";}
function divColor(v,lim){
  const t=Math.max(-1,Math.min(1,v/lim));
  return t>=0?mix([[255,255,255],[165,20,28]],t):mix([[255,255,255],[29,42,131]],-t);
}

// ---------- UMAP ----------
function drawUmap(g,names,colors,outlines,sparse,labels,oy,sparseFilter,fringe){
  const pts=function(o){return o.map(function(q){return (q[0]/3)+","+(oy+q[1]/3);}).join(" ");};
  sparse.forEach(function(s){
    const p=mk("polygon",{points:pts(s[1]),fill:s[0],filter:sparseFilter},g);
    
    
  });
  outlines.forEach(function(o,i){
    let cx=0,cy=0;
    o.forEach(function(q){cx+=q[0]/o.length;cy+=q[1]/o.length;});
    const big=o.map(function(q){return [cx+(q[0]-cx)*fringe,cy+(q[1]-cy)*fringe];});
    const f=mk("polygon",{points:pts(big),fill:colors[i],filter:"url(#sparse)"},g);
    
    
  });
  outlines.forEach(function(o,i){
    const p=mk("polygon",{points:pts(o),fill:colors[i],filter:"url(#rough)"},g);
    
    
  });
  labels.forEach(function(l){
    txt(g,l[1]/3,oy+l[2]/3,l[0],aLabelsSize,'umap-label-'+slug(l[0]),'middle');
  });
}
drawUmap(document.getElementById("umapA"),aNames,aColors,aOutlines,aSparse,aLabels,0,aLayerFilter,aFringe);
drawUmap(document.getElementById("umapD"),dNames,dColors,dOutlines,dSparse,dLabels,205,dLayerFilter,dFringe);

// ---------- z-score heatmaps ----------
function dendro(g,x0,cw,base,merges){
  const nodes=[];
  for(let i=0;i<10;i++) nodes.push({x:x0+cw*(i+.5),y:base});
  merges.forEach(function(m){
    const a=nodes[m[0]],b=nodes[m[1]],y=base-m[2];
    const p=mk("path",{d:"M"+a.x+" "+a.y+"V"+y+"H"+b.x+"V"+b.y,fill:"none",stroke:"#b5b5b5","stroke-width":0.7},g);
    
    
    nodes.push({x:(a.x+b.x)/2,y:y});
  });
}
function zHeat(g,rows,cols,x0,y0,w,h){
  const cw=w/cols.length,rh=h/rows.length;
  rows.forEach(function(r,i){
    r.forEach(function(v,j){
      const c=mk("rect",{x:x0+j*cw,y:y0+i*rh,width:cw+.3,height:rh+.3,fill:virColor(v)},g);
      
      
    });
  });
  cols.forEach(function(c,j){
    txt(g,x0+(j+.5)*cw+3,y0+h+5,c,8.4,'column-label-'+slug(c),'end',-45);
  });
}
(function(){
  const g=document.getElementById("heatB");
  zHeat(g,bRows,bCols,253,16,130,166);
  dendro(g,253,13,15,bTree);
  bGenes.forEach(function(n,i){
    const ly=26+5.74*i;
    const hy=lerp(ly,20+i*5.9,.5);
    const l=mk("path",{d:"M384 "+hy+"H387L391 "+ly,fill:"none",stroke:"#999","stroke-width":0.5},g);
    
    
    txt(g,392.5,ly,n,7.2,'gene-label-'+slug(n));
  });
})();
(function(){
  const g=document.getElementById("heatE");
  zHeat(g,eRows,eCols,248,220.5,130,166.3);
  dendro(g,248,13,219.5,eTree);
  eGenes.forEach(function(n,i){
    const hy=220.5+eGeneRows[i]*2.97;
    const l=mk("path",{d:"M379 "+hy+"H383L387 "+hy,fill:"none",stroke:"#999","stroke-width":0.5},g);
    
    
    txt(g,389.3,hy,n,7.2,'gene-label-'+slug(n));
  });
})();

// ---------- enrichment dot plots ----------
function dotC(){
  const g=document.getElementById("dotC");
  const X=function(i){return 656+i*10.15;},Y=function(i){return 20+i*9.72;},R=function(c){return 1.2*Math.sqrt(c);};
  const ax=mk("path",{d:"M650 16V171.5H723",fill:"none",stroke:"#999","stroke-width":1},g);
  
  
  cTerms.forEach(function(t,i){txt(g,643.5,Y(i),t,8,'term-label-'+slug(t),'end');});
  cCols.forEach(function(c,i){txt(g,X(i)+3,176,c,8.4,'column-label-'+slug(c),'end',-45);});
  cDots.forEach(function(d){
    const c=mk("circle",{cx:X(d[1]),cy:Y(d[0]),r:R(d[2]),fill:fdrColor(d[3],1.3,7.2)},g);
    
    
  });
  cLegendCounts.forEach(function(n,i){
    const y=126.5+i*9.6;
    const c=mk("circle",{cx:736.5,cy:y,r:R(n),fill:"#000"},g);
    
    
    txt(g,745,y,String(n),8,'gene-count-label');
  });
}
dotC();
function dotF(){
  const g=document.getElementById("dotF");
  const X=function(i){return 650.3+i*7.15;},Y=function(i){return 224+i*9.12;},R=function(c){return 1.3*Math.pow(c,.35);};
  const ax=mk("path",{d:"M646 218V375H711",fill:"none",stroke:"#999","stroke-width":1},g);
  
  
  fTerms.forEach(function(t,i){txt(g,642.5,Y(i),t,8,'term-label-'+slug(t),'end');});
  fCols.forEach(function(c,i){txt(g,X(i)+2.5,379,c,8,'column-label-'+slug(c),'end',-60);});
  fDots.forEach(function(d){
    const c=mk("circle",{cx:X(d[1]),cy:Y(d[0]),r:R(d[2]),fill:fdrColor(d[3],1.3,9.5)},g);
    
    
  });
  fLegendCounts.forEach(function(n,i){
    const y=316+i*9.6;
    const c=mk("circle",{cx:725.5,cy:y,r:R(n),fill:"#000"},g);
    
    
    txt(g,733,y,String(n),8,'gene-count-label');
  });
}
dotF();

// ---------- marker dot plot ----------
function dotG(){
  const g=document.getElementById("dotG");
  const X=function(i){return 51.7+i*10.9;},Y=function(i){return 461.7+i*11.08;},R=function(f){return 1.3*Math.pow(f,.36);};
  const ax=mk("path",{d:"M46 455V601H134",fill:"none",stroke:"#999","stroke-width":1},g);
  
  
  gGenes.forEach(function(n,i){txt(g,43,Y(i),n,7.9,'gene-label-'+slug(n),'end');});
  gCols.forEach(function(c,i){txt(g,X(i)+3,605,c,8.4,'column-label-'+slug(c),'end',-45);});
  gDots.forEach(function(d){
    const c=mk("circle",{cx:X(d[1]),cy:Y(d[0]),r:R(d[2]),fill:divColor(d[3],2.5)},g);
    
    
  });
  gLegendFdr.forEach(function(n,i){
    const y=564+i*11.7;
    const c=mk("circle",{cx:153,cy:y,r:R(n),fill:"#000"},g);
    
    
    txt(g,164,y,String(n),8,'fdr-size-label');
  });
}
dotG();

// ---------- gene score heatmap ----------
(function(){
  const g=document.getElementById("heatG");
  const x0=47.3,y0=642.7,cw=10.33,rh=230.3/hGenes.length;
  hValues.forEach(function(r,i){
    r.forEach(function(v,j){
      const c=mk("rect",{x:x0+j*cw,y:y0+i*rh,width:cw+.2,height:rh+.2,fill:divColor(v,2.7)},g);
      
      
    });
  });
  hGenes.forEach(function(n,i){txt(g,45.5,y0+(i+.5)*rh,n,7.8,'gene-label-'+slug(n),'end');});
  hCols.forEach(function(c,j){txt(g,x0+(j+.5)*cw+3,877,c,7.6,'column-label-'+slug(c),'end',-50);});
})();

// ---------- boxplots ----------
function drawBox(g,title,boxes,ticks,cfg){
  const X=function(v){return cfg.x0+cfg.unit*v;},Y=function(i){return cfg.ys+i*cfg.dy;};
  const ax=mk("path",{d:"M"+cfg.ax+" "+cfg.top+"V"+cfg.bot+"H"+cfg.right,fill:"none",stroke:"#666","stroke-width":0.8},g);
  
  
  txt(g,cfg.tx,cfg.top-9,title,8.5,'box-title-'+slug(title),'middle');
  boxes.forEach(function(b,i){
    const y=Y(i);
    const w=mk("line",{x1:X(b[0]),x2:X(b[4]),y1:y,y2:y,stroke:"#ccc","stroke-width":0.9},g);
    
    
    const r=mk("rect",{x:X(b[1]),y:y-5,width:X(b[3])-X(b[1]),height:10,fill:iFills[i]},g);
    
    
    const m=mk("line",{x1:X(b[2]),x2:X(b[2]),y1:y-5,y2:y+5,stroke:"rgba(0,0,0,.4)","stroke-width":0.7},g);
    
    
    txt(g,cfg.ax-1.5,y,iGroups[i],9,'group-label-'+slug(iGroups[i]),'end');
  });
  ticks.forEach(function(t){
    txt(g,X(t),cfg.bot+cfg.tickDy,(t<0?"−":"")+Math.abs(t),8.8,'x-tick-label','middle');
  });
  txt(g,cfg.tx,cfg.bot+cfg.titleDy,"Log2(Proportion)",9.2,'x-axis-title','middle');
  iStarGroups.forEach(function(i){
    const y=Y(i),x=cfg.star;
    const s=mk("path",{d:"M"+(x-4)+" "+(y-.8)+"H"+(x+4)+"M"+(x-2.6)+" "+(y+3.4)+"L"+x+" "+(y-4)+"L"+(x+2.6)+" "+(y+3.4)+"M"+(x-3.4)+" "+(y-3)+"L"+(x+3.4)+" "+(y+1.5)+"M"+(x+3.4)+" "+(y-3)+"L"+(x-3.4)+" "+(y+1.5),fill:"none",stroke:"#333","stroke-width":0.5},g);
    
    
  });
}
(function(){
  const g=document.getElementById("boxI");
  drawBox(g,"Insula ast.C1",iTopBoxes,iTopTicks,{x0:274,unit:11.3,ys:719.7,dy:13.1,ax:240,top:712,bot:766,right:300,tx:269,star:304.5,tickDy:6.7,titleDy:16.7});
  drawBox(g,"Insula mg.C4",iBotBoxes,iBotTicks,{x0:285,unit:13.6,ys:832,dy:13,ax:243.3,top:824,bot:879,right:303,tx:270.5,star:303.5,tickDy:5.2,titleDy:15});
})();

// ---------- genome tracks ----------
function drawTracks(g,cfg){
  const frame=mk("rect",{x:cfg.fx,y:cfg.fy,width:cfg.fw,height:cfg.fh,fill:"none",stroke:"#aaa","stroke-width":1},g);
  
  
  cfg.seps.forEach(function(x){
    const l=mk("line",{x1:x,x2:x,y1:cfg.fy,y2:cfg.fy+cfg.fh,stroke:"#888","stroke-width":0.9},g);
    
    
  });
  cfg.regions.forEach(function(r,ri){
    (cfg.bands[ri]||[]).forEach(function(b){
      const rc=mk("rect",{x:b[0],y:cfg.bandTop,width:b[1]-b[0],height:cfg.bandBot-cfg.bandTop,fill:"#e6e6e6"},g);
      
      
      const sq=mk("rect",{x:b[0]+.4,y:cfg.sqY,width:b[1]-b[0]-.8,height:3.8,fill:"#1e2fb0"},g);
      
      
    });
  });
  cfg.rows.forEach(function(name,ri){
    txt(g,cfg.labelX,cfg.labelYs[ri],name,7.7,'track-label-'+slug(name),'end');
    cfg.regions.forEach(function(r,gi){
      const base=cfg.bases[ri],hs=cfg.heights[gi][ri],pk=cfg.peaks[gi],wd=cfg.widths[gi];
      let d="M"+r[0]+" "+base;
      const W=r[1]-r[0];
      for(let x=r[0];x<=r[1];x+=0.75){
        const f=(x-r[0])/W*100;
        let h=0;
        hs.forEach(function(v,k){
          const t=1-Math.abs(f-pk[k])/wd[k];
          if(t>0&&v>0) h=Math.max(h,v*Math.min(1,t*1.4));
        });
        d+="L"+x+" "+(base-h);
      }
      d+="L"+r[1]+" "+base+"Z";
      const p=mk("path",{d:d,fill:cfg.colors[ri]},g);
      
      
      const bl=mk("rect",{x:r[0],y:base-.7,width:W,height:1.4,fill:cfg.colors[ri]},g);
      
      
    });
  });
  cfg.genes.forEach(function(n,i){
    const m=cfg.models[i];
    const ln=mk("line",{x1:m[0],x2:m[1],y1:cfg.modelY,y2:cfg.modelY,stroke:"#1e2fb0","stroke-width":0.9},g);
    
    
    m[2].forEach(function(f){
      const e=mk("rect",{x:lerp(m[0],m[1],f)-.5,y:cfg.modelY-1.7,width:1,height:3.4,fill:"#1e2fb0"},g);
      
      
    });
    txt(g,cfg.geneX[i],cfg.geneY,n,8,'gene-name-'+slug(n),'middle');
  });
}
drawTracks(document.getElementById("trackJ"),{
  fx:352,fy:444,fw:442,fh:216,seps:[415.3,479.3,541.3,604.3,666.3,727.7],
  regions:[[355,414],[417.7,476.7],[480,539],[543,602],[606,665],[668.3,727.3],[730.7,794]],
  bands:[[[356,360],[367,371.3],[389,393.3],[403,407.3]],[[471,475.3]],[[485.7,489.7],[518.3,522.3],[531.7,535.7]],[[554,558.3],[564,568.7],[574,578.7]],[[612.7,617],[646,650.3],[654,658.7]],[[668.3,672.3],[693.3,697.3]],[]],
  bandTop:452,bandBot:638,sqY:636,rows:jRows,colors:jColors,genes:jGenes,peaks:jPeaks,widths:jWidths,heights:jHeights,
  bases:[462.3,481.3,500.7,519.3,538.7,557.7,576.7,595.7,614.7,633.7],
  labelX:350,labelYs:[461,478,497,516,535,554,572,592,611,631],
  modelY:647.7,geneY:654,
  models:[[369.3,414,[0,.1,.45,.75,1]],[417.7,460,[0,.3,.6,.95,1]],[522,539,[0,.3,1]],[543,566.7,[0,.6,1]],[619.3,660,[0,.05,.1,.3,.45,.5,.7,1]],[724.3,727.3,[0]],[731.7,793,[0,.1,.2,.35,.5,.6,.65,.7,.75,.8,.85,.9,.95,1]]],
  geneX:[392.7,444,525,560.7,644,708,762]
});
drawTracks(document.getElementById("trackK"),{
  fx:359.3,fy:693.7,fw:438,fh:195,seps:[430.3,501.3,572.3,643,714.3],
  regions:[[361.3,429],[432,499.3],[502.7,570],[573.3,640.7],[644,711.3],[715.3,794]],
  bands:[[[374,377.3],[395.3,398.7],[401.3,404.7],[420,423.3]],[[438,441.3],[444,447.3],[466.7,470],[475,478.3],[481.3,484.7]],[[548,554.3]],[[606,610],[621,628.7],[632,636]],[[673.3,676.7],[696.7,700]],[]],
  bandTop:702,bandBot:866,sqY:864.5,rows:kRows,colors:kColors,genes:kGenes,peaks:kPeaks,widths:kWidths,heights:kHeights,
  bases:[710.3,727,743.7,760.7,777.3,794,811,827.7,844.7,861.7],
  labelX:355,labelYs:[708,724.7,741.3,758,774.7,791.3,808,824.7,841.3,858],
  modelY:877.7,geneY:884,
  models:[[361.3,422.3,[.05,.1,.13,.2,.3,.37,.5,.6,.7,.75,.8,.95,1]],[444.3,499.3,[0,.1,.3,.5,.7,.85,1]],[502.7,550,[0,.1,.3,.4,.6,.75,1]],[576.7,641.7,[0,.1,.27,.48,.67,.85,1]],[656.7,698.3,[0,.06,.3,.4,.55,.65,.95,1]],[715.3,792.7,[0,.1,.2,.25,.35,.45,.55,.6,.65,.7,.75,.8,.9,1]]],
  geneX:[402.7,476.7,541,612,689,756.7]
});
</script>
</body>
</html>
